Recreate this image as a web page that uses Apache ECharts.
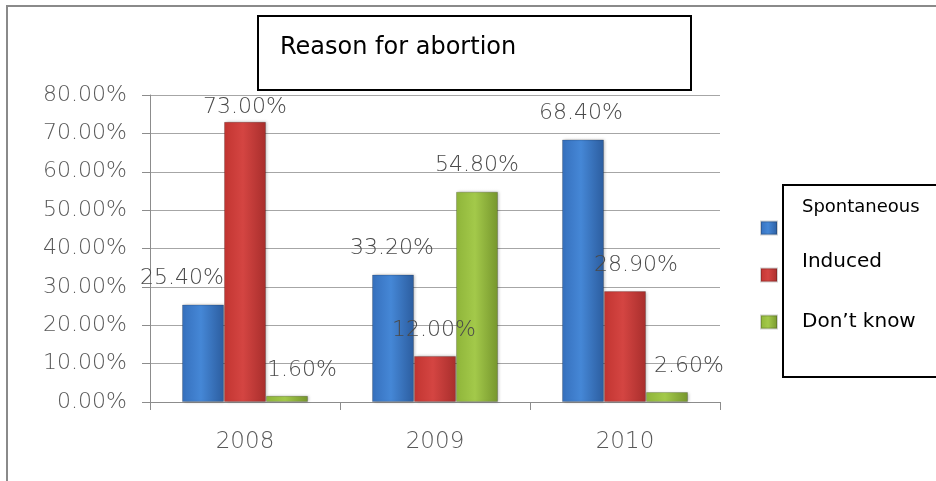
<!DOCTYPE html>
<html>
<head>
<meta charset="utf-8">
<script src="https://cdn.jsdelivr.net/npm/echarts@6/dist/echarts.min.js"></script>
<style>
  html, body { margin: 0; padding: 0; background: #ffffff; }
  #chart { width: 936px; height: 481px; }
</style>
</head>
<body>
<div id="chart"></div>
<script>
// ---- data ----
const categories = ['2008', '2009', '2010'];
const seriesNames = ['Spontaneous', 'Induced', 'Don\u2019t know'];
const spontaneous = [25.4, 33.2, 68.4];
const induced = [73.0, 12.0, 28.9];
const dontKnow = [1.6, 54.8, 2.6];
const yTicks = [0, 10, 20, 30, 40, 50, 60, 70, 80];
const titleText = 'Reason for abortion';

// ---- styling (label nudges mimic the original placement) ----
const labelNudge = {
  'Spontaneous': [[-21, 0], [-1, 0], [-2, 0]],
  'Induced': [[0, 11.5], [-1, 0], [11, 0]],
  'Don\u2019t know': [[15, 0], [0, 0], [22, 0]]
};
const lightFont = "'DejaVu Sans Light', 'DejaVu Sans'";

function grad(l, m, r) {
  return {
    type: 'linear', x: 0, y: 0, x2: 1, y2: 0,
    colorStops: [
      { offset: 0, color: l },
      { offset: 0.45, color: m },
      { offset: 1, color: r }
    ]
  };
}
const colors = [
  grad('#3670bd', '#4587d6', '#2c5d9f'),
  grad('#c23531', '#d44542', '#a82e2c'),
  grad('#8fb53a', '#a3c94a', '#76962d')
];

function makeSeries(name, values, idx) {
  return {
    name: name,
    type: 'bar',
    barWidth: 42,
    barGap: '0%',
    itemStyle: {
      color: colors[idx],
      borderColor: 'rgba(0,0,0,0.18)',
      borderWidth: 1,
      shadowColor: 'rgba(0,0,0,0.25)',
      shadowBlur: 3,
      shadowOffsetX: 1
    },
    label: {
      show: true,
      position: 'top',
      distance: 15,
      color: '#4a4a4a',
      fontFamily: lightFont,
      fontWeight: 200,
      fontSize: 22,
      formatter: p => p.value.toFixed(2) + '%'
    },
    data: values.map((v, i) => ({
      value: v,
      label: { offset: labelNudge[name][i] }
    }))
  };
}

// legend layout: each entry is its own legend so the text can sit above its icon
const legendPos = [
  { top: 198, gapBelow: 42, size: 18 },
  { top: 252, gapBelow: 26, size: 20 },
  { top: 312, gapBelow: 0, size: 20 }
];

const chart = echarts.init(document.getElementById('chart'), null, { renderer: 'canvas' });
chart.setOption({
  backgroundColor: '#ffffff',
  animation: false,
  title: {
    text: titleText,
    left: 280,
    top: 36,
    padding: 0,
    textStyle: {
      fontFamily: "'DejaVu Sans'",
      fontWeight: 'normal',
      fontSize: 24,
      color: '#000000'
    }
  },
  legend: seriesNames.map((n, i) => ({
    data: [n],
    left: 760,
    top: legendPos[i].top,
    padding: 0,
    itemWidth: 16,
    itemHeight: 13,
    icon: 'rect',
    selectedMode: false,
    formatter: name => legendPos[i].gapBelow > 0 ? '{t|' + name + '}\n{g|}' : '{t|' + name + '}',
    textStyle: {
      padding: [0, 0, 0, 20],
      rich: {
        t: {
          fontFamily: "'DejaVu Sans'",
          fontSize: legendPos[i].size,
          lineHeight: legendPos[i].size,
          color: '#000000'
        },
        g: {
          fontSize: 1,
          lineHeight: legendPos[i].gapBelow,
          height: legendPos[i].gapBelow
        }
      }
    }
  })),
  grid: {
    left: 150,
    right: 216,
    top: 95,
    bottom: 79,
    containLabel: false
  },
  xAxis: {
    type: 'category',
    data: categories,
    boundaryGap: true,
    axisLine: { show: true, lineStyle: { color: '#8c8c8c', width: 1 } },
    axisTick: { show: true, alignWithLabel: false, length: 8, lineStyle: { color: '#8c8c8c' } },
    axisLabel: {
      margin: 29,
      color: '#595959',
      fontFamily: lightFont,
      fontWeight: 200,
      fontSize: 23
    }
  },
  yAxis: {
    type: 'value',
    min: yTicks[0],
    max: yTicks[yTicks.length - 1],
    interval: yTicks[1] - yTicks[0],
    axisLine: { show: true, lineStyle: { color: '#8c8c8c', width: 1 } },
    axisTick: { show: true, length: 8, lineStyle: { color: '#8c8c8c' } },
    splitLine: { show: true, lineStyle: { color: '#a6a6a6', width: 1 } },
    axisLabel: {
      margin: 23,
      color: '#595959',
      fontFamily: lightFont,
      fontWeight: 200,
      fontSize: 22,
      formatter: v => v.toFixed(2) + '%'
    }
  },
  graphic: [
    {
      type: 'rect', silent: true, z: -1,
      shape: { x: 7, y: 6, width: 960, height: 500 },
      style: { fill: 'none', stroke: '#8a8a8a', lineWidth: 2 }
    },
    {
      type: 'rect', silent: true,
      shape: { x: 258, y: 16, width: 433, height: 74 },
      style: { fill: 'none', stroke: '#000000', lineWidth: 2 }
    },
    {
      type: 'rect', silent: true,
      shape: { x: 783, y: 185, width: 170, height: 192 },
      style: { fill: 'none', stroke: '#000000', lineWidth: 2 }
    }
  ],
  series: [
    makeSeries(seriesNames[0], spontaneous, 0),
    makeSeries(seriesNames[1], induced, 1),
    makeSeries(seriesNames[2], dontKnow, 2)
  ]
});
</script>
</body>
</html>
